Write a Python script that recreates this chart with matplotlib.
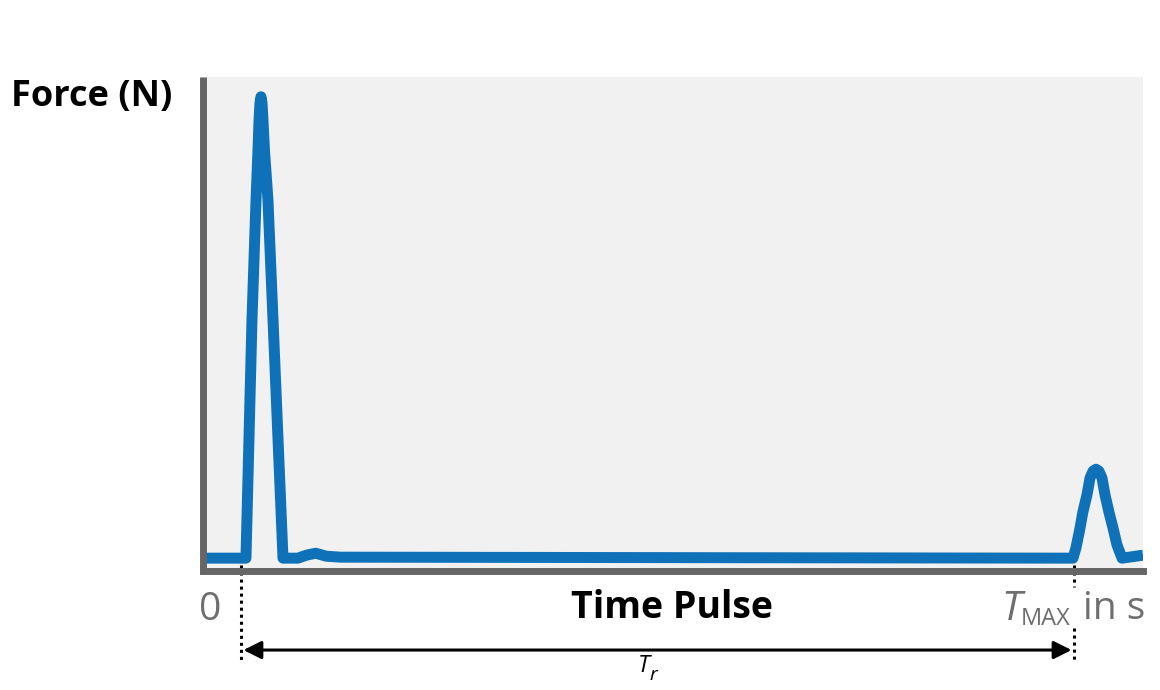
import matplotlib
matplotlib.use("Agg")
import matplotlib.pyplot as plt

# force pulse (time and force in % of the axis range)
t = [0.3, 4.57, 5.21, 5.64, 5.85, 5.96, 6.06, 6.17, 6.28, 6.38, 6.54, 6.91, 7.45, 8.51,
     10.1, 11.0, 12.0, 13.1, 14.6, 53.0,
     92.55, 92.87, 93.3, 93.6, 94.04, 94.36, 94.68, 95.0, 95.32, 95.64, 95.96,
     96.38, 96.81, 97.23, 97.77, 100.0]
force = [2.6, 2.6, 50.8, 75.1, 85.2, 91.3, 94.7, 96.0, 94.7, 91.3, 85.2, 75.1, 50.8, 2.6,
         2.6, 3.2, 3.6, 3.0, 2.8, 2.7,
         2.6, 4.7, 8.7, 11.9, 15.4, 18.8, 20.2, 20.6, 20.2, 18.8, 15.4,
         11.9, 8.7, 5.3, 2.6, 3.2]

t_start = 4.0      # start of the repetition period
t_max = 92.7       # T_MAX
arrow_y = -16.0
dot_top = 1.2
dot_bottom = -18.4
gap_top = -3.2
gap_bottom = -11.5

W, H = 1160, 690
BLUE = "#0f72b9"
GREY = "#666666"
TXT_GREY = "#6e6e6e"

plt.rcParams["font.family"] = ["Open Sans", "DejaVu Sans"]

fig = plt.figure(figsize=(W / 100, H / 100), dpi=100)
ax = fig.add_axes([203 / W, (H - 571) / H, (1143 - 203) / W, (571 - 77) / H])
ax.set_facecolor("#f1f1f1")
ax.set_xlim(0, 100)
ax.set_ylim(0, 100)

ax.plot(t, force, color=BLUE, lw=7.9, solid_joinstyle="round", solid_capstyle="butt")

for side in ["top", "right"]:
    ax.spines[side].set_visible(False)
for side in ["left", "bottom"]:
    ax.spines[side].set_color(GREY)
    ax.spines[side].set_linewidth(5)
ax.spines["left"].set_capstyle("butt")
ax.spines["bottom"].set_capstyle("projecting")
ax.set_xticks([])
ax.set_yticks([])

# dotted markers below the axis
dots = dict(ls=(0, (1, 1.3)), lw=2.2, color="black", clip_on=False)
ax.plot([t_start, t_start], [dot_top, dot_bottom], **dots)
ax.plot([t_max, t_max], [dot_top, gap_top], **dots)
ax.plot([t_max, t_max], [gap_bottom, dot_bottom], **dots)

ax.annotate("", xy=(t_max - 0.3, arrow_y), xytext=(t_start + 0.3, arrow_y),
            arrowprops=dict(arrowstyle="<|-|>", color="black", lw=2.2,
                            mutation_scale=27, shrinkA=0, shrinkB=0),
            annotation_clip=False)


def px(x, y):
    return x / W, 1 - y / H


fig.text(*px(11, 106), "Force (N)", fontsize=26, fontweight="bold",
         ha="left", va="baseline", color="black")
fig.text(*px(210, 620), "0", fontsize=28, ha="center", va="baseline",
         color=TXT_GREY)
fig.text(*px(672, 618), "Time Pulse", fontsize=27, fontweight="bold",
         ha="center", va="baseline", color="black")
fig.text(*px(1001, 620), "T", fontsize=29, style="italic", ha="left",
         va="baseline", color=TXT_GREY)
fig.text(*px(1021, 625), "MAX", fontsize=17, ha="left", va="baseline",
         color=TXT_GREY)
fig.text(*px(1083, 619), "in s", fontsize=28, ha="left", va="baseline",
         color=TXT_GREY)
fig.text(*px(638, 672), "T", fontsize=17, style="italic", ha="left",
         va="baseline", color="black")
fig.text(*px(649, 680), "r", fontsize=14, style="italic", ha="left",
         va="baseline", color="black")

fig.savefig("out.png", dpi=100)
